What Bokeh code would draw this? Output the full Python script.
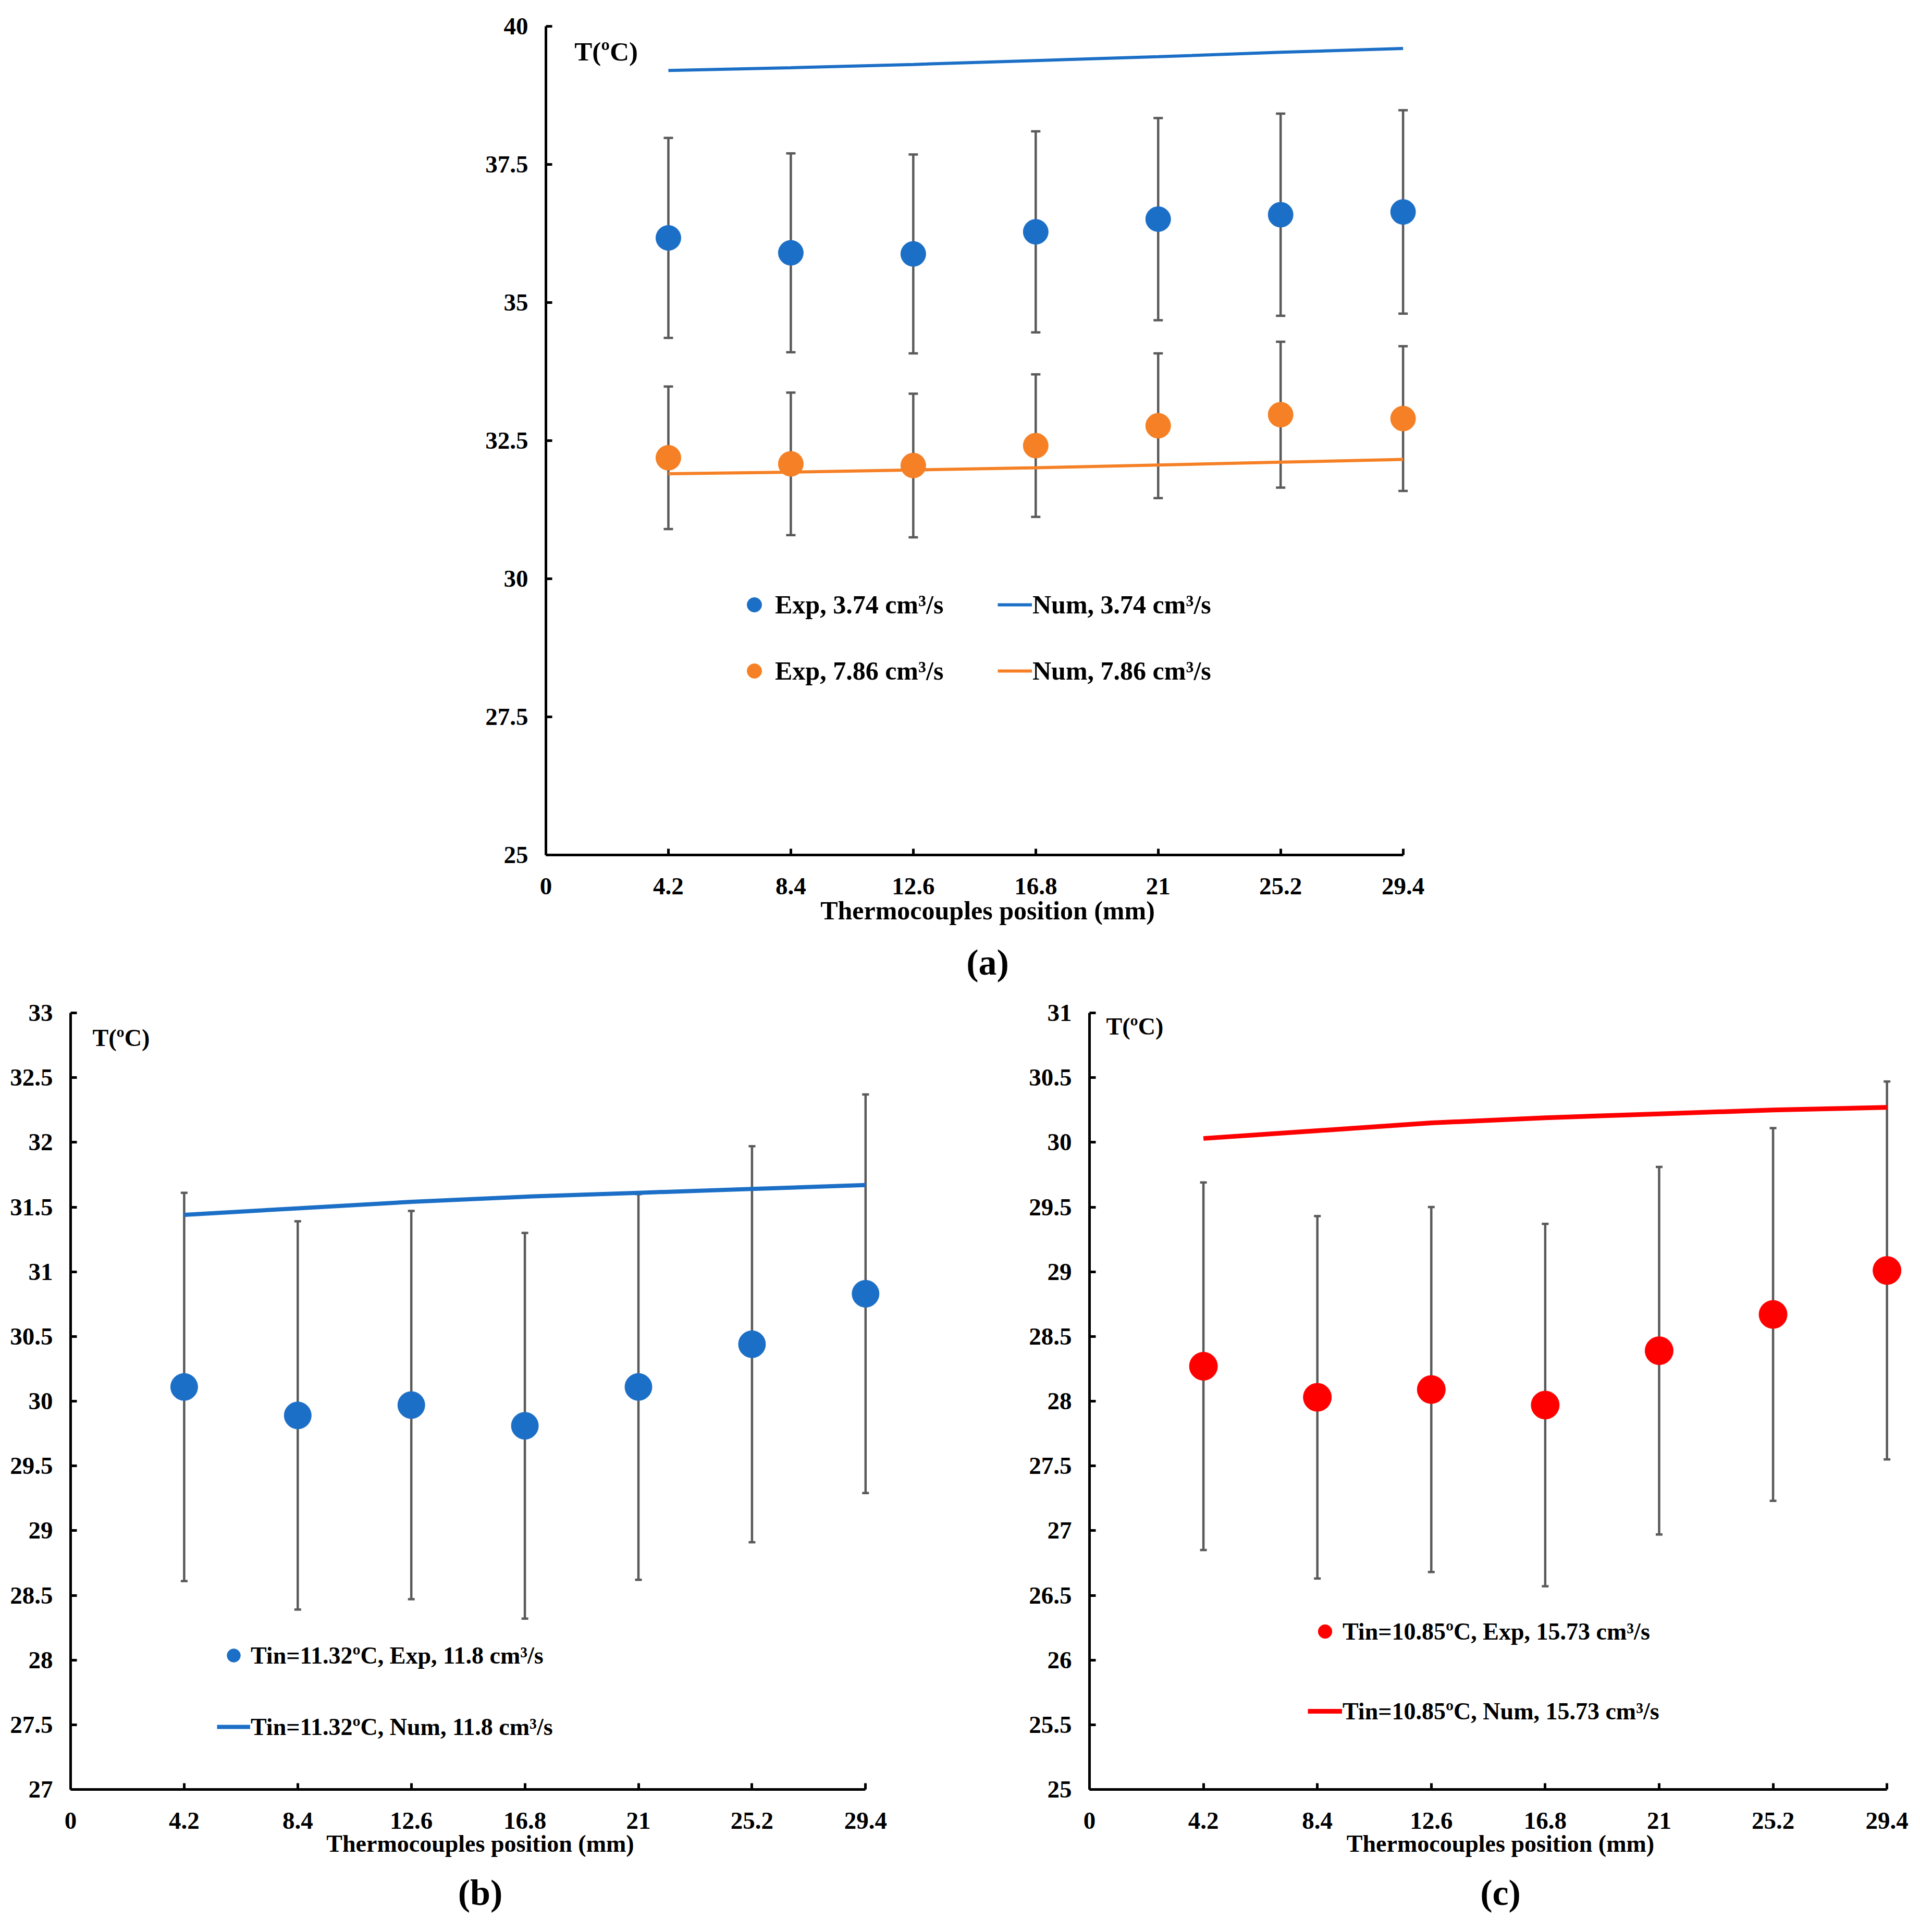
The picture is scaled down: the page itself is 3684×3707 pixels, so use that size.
from bokeh.plotting import figure
from bokeh.models import (Range1d, FixedTicker, Label, Legend, LegendItem, Title,
                          Whisker, TeeHead, ColumnDataSource, Spacer)
from bokeh.layouts import column, row
from bokeh.embed import file_html
from bokeh.resources import INLINE

# ---------------- data ----------------
positions = [4.2, 8.4, 12.6, 16.8, 21, 25.2, 29.4]
x_ticks = [0, 4.2, 8.4, 12.6, 16.8, 21, 25.2, 29.4]
x_tick_labels = ["0", "4.2", "8.4", "12.6", "16.8", "21", "25.2", "29.4"]

# panel (a)
a_exp_374 = [36.17, 35.90, 35.88, 36.28, 36.51, 36.59, 36.64]
a_err_374 = [1.81, 1.80, 1.80, 1.82, 1.83, 1.83, 1.84]
a_exp_786 = [32.19, 32.08, 32.05, 32.41, 32.77, 32.97, 32.90]
a_err_786 = [1.29, 1.29, 1.30, 1.29, 1.31, 1.32, 1.31]
a_num_374 = [39.20, 39.25, 39.31, 39.38, 39.45, 39.53, 39.60]
a_num_786 = [31.90, 31.93, 31.97, 32.01, 32.06, 32.11, 32.16]
a_y_ticks = [25, 27.5, 30, 32.5, 35, 37.5, 40]
a_y_labels = ["25", "27.5", "30", "32.5", "35", "37.5", "40"]

# panel (b)
b_exp = [30.11, 29.89, 29.97, 29.81, 30.11, 30.44, 30.83]
b_err = [1.50, 1.50, 1.50, 1.49, 1.49, 1.53, 1.54]
b_num = [31.44, 31.49, 31.54, 31.58, 31.61, 31.64, 31.67]
b_y_ticks = [27, 27.5, 28, 28.5, 29, 29.5, 30, 30.5, 31, 31.5, 32, 32.5, 33]
b_y_labels = ["27", "27.5", "28", "28.5", "29", "29.5", "30", "30.5", "31", "31.5", "32", "32.5", "33"]

# panel (c)
c_exp = [28.27, 28.03, 28.09, 27.97, 28.39, 28.67, 29.01]
c_err = [1.42, 1.40, 1.41, 1.40, 1.42, 1.44, 1.46]
c_num = [30.03, 30.09, 30.15, 30.19, 30.22, 30.25, 30.27]
c_y_ticks = [25, 25.5, 26, 26.5, 27, 27.5, 28, 28.5, 29, 29.5, 30, 30.5, 31]
c_y_labels = ["25", "25.5", "26", "26.5", "27", "27.5", "28", "28.5", "29", "29.5", "30", "30.5", "31"]

labels_a = ["Exp, 3.74 cm³/s", "Exp, 7.86 cm³/s", "Num, 3.74 cm³/s", "Num, 7.86 cm³/s"]
labels_b = ["Tin=11.32ºC, Exp, 11.8 cm³/s", "Tin=11.32ºC, Num, 11.8 cm³/s"]
labels_c = ["Tin=10.85ºC, Exp, 15.73 cm³/s", "Tin=10.85ºC, Num, 15.73 cm³/s"]

x_title = "Thermocouples position (mm)"
y_title = "T(ºC)"

X_AXIS_END = 29.4   # axis line ends here
X_VIEW_END = 30.3   # plotting area extends a bit further so end markers are not cut

# ---------------- style ----------------
FONT = "Liberation Serif"
BLUE = "#1C6FC6"
ORANGE = "#F58025"
RED = "#FF0000"
ERR = "#5A5A5A"


def make_panel(width, height, left, right, top, bottom, y0, y1, y_ticks, y_labels, tag,
               title_size, tag_standoff):
    p = figure(width=width, height=height, x_range=Range1d(0, X_VIEW_END), y_range=Range1d(y0, y1),
               output_backend="svg", toolbar_location=None,
               min_border_left=left, min_border_right=right,
               min_border_top=top, min_border_bottom=bottom)
    p.outline_line_color = None
    p.xgrid.visible = False
    p.ygrid.visible = False
    p.background_fill_color = "white"
    for ax in (p.xaxis[0], p.yaxis[0]):
        ax.axis_line_color = "black"
        ax.axis_line_width = 5
        ax.major_tick_line_color = "black"
        ax.major_tick_line_width = 5
        ax.major_tick_in = 12
        ax.major_tick_out = 0
        ax.minor_tick_in = 0
        ax.minor_tick_out = 0
        ax.major_label_text_font = FONT
        ax.major_label_text_font_size = "47px"
        ax.major_label_text_font_style = "bold"
        ax.major_label_text_color = "black"
    p.yaxis.major_label_standoff = 34
    p.xaxis.major_label_standoff = 44
    p.xaxis.bounds = (0, X_AXIS_END)
    p.xaxis.ticker = FixedTicker(ticks=x_ticks)
    p.xaxis.major_label_overrides = dict(zip(x_ticks, x_tick_labels))
    p.yaxis.ticker = FixedTicker(ticks=y_ticks)
    p.yaxis.major_label_overrides = dict(zip(y_ticks, y_labels))
    p.xaxis.axis_label = x_title
    p.xaxis.axis_label_text_font = FONT
    p.xaxis.axis_label_text_font_size = title_size
    p.xaxis.axis_label_text_font_style = "bold"
    p.xaxis.axis_label_text_color = "black"
    p.xaxis.axis_label_standoff = 0
    p.add_layout(Title(text=tag, align="center", text_font=FONT, text_font_size="70px",
                       text_font_style="bold", text_color="black", standoff=tag_standoff), "below")
    return p


def add_series(p, vals, errs, cap):
    src = ColumnDataSource(dict(x=positions, y=vals,
                                upper=[v + e for v, e in zip(vals, errs)],
                                lower=[v - e for v, e in zip(vals, errs)]))
    w = Whisker(source=src, base="x", upper="upper", lower="lower",
                line_color=ERR, line_width=4.5,
                upper_head=TeeHead(size=cap, line_color=ERR, line_width=4.5),
                lower_head=TeeHead(size=cap, line_color=ERR, line_width=4.5))
    p.add_layout(w)
    return src


def style_legend(leg, font_size, gw, gh, standoff, spacing):
    leg.glyph_width = gw
    leg.glyph_height = gh
    leg.label_height = gh
    leg.label_standoff = standoff
    leg.spacing = spacing
    leg.padding = 0
    leg.margin = 0
    leg.border_line_color = None
    leg.background_fill_alpha = 0
    leg.label_text_font = FONT
    leg.label_text_font_size = font_size
    leg.label_text_font_style = "bold"
    leg.label_text_color = "black"


# ---------------- panel (a) ----------------
pa = make_panel(1835, 1913, 130, 10, 50, 273, 25, 40, a_y_ticks, a_y_labels, "(a)", "50px", 56)
s1 = add_series(pa, a_exp_374, a_err_374, 18)
s2 = add_series(pa, a_exp_786, a_err_786, 18)
ln1 = pa.line(positions, a_num_374, line_color=BLUE, line_width=6)
ln2 = pa.line(positions, a_num_786, line_color=ORANGE, line_width=6)
d1 = pa.scatter("x", "y", source=s1, size=48, color=BLUE)
d2 = pa.scatter("x", "y", source=s2, size=48, color=ORANGE)
pa.add_layout(Label(x=0.98, y=39.81, text=y_title, text_baseline="top", text_font=FONT,
                    text_font_size="51px", text_font_style="bold", text_color="black"))
leg_a1 = Legend(items=[LegendItem(label=labels_a[0], renderers=[d1]),
                       LegendItem(label=labels_a[1], renderers=[d2])], location=(365, 318))
style_legend(leg_a1, "50px", 70, 70, 5, 57)
leg_a2 = Legend(items=[LegendItem(label=labels_a[2], renderers=[ln1]),
                       LegendItem(label=labels_a[3], renderers=[ln2])], location=(867, 318))
style_legend(leg_a2, "50px", 66, 70, 1, 57)
pa.add_layout(leg_a1)
pa.add_layout(leg_a2)

# ---------------- panel (b) ----------------
pb = make_panel(1717, 1781, 135, 10, 30, 261, 27, 33, b_y_ticks, b_y_labels, "(b)", "46px", 50)
sb = add_series(pb, b_exp, b_err, 13)
lnb = pb.line(positions, b_num, line_color=BLUE, line_width=8)
db = pb.scatter("x", "y", source=sb, size=52, color=BLUE)
pb.add_layout(Label(x=0.81, y=32.91, text=y_title, text_baseline="top", text_font=FONT,
                    text_font_size="46px", text_font_style="bold", text_color="black"))
leg_b = Legend(items=[LegendItem(label=labels_b[0], renderers=[db]),
                      LegendItem(label=labels_b[1], renderers=[lnb])], location=(281, 85))
style_legend(leg_b, "46px", 64, 70, 1, 67)
pb.add_layout(leg_b)

# ---------------- panel (c) ----------------
pc = make_panel(1707, 1781, 130, 0, 30, 260, 25, 31, c_y_ticks, c_y_labels, "(c)", "46px", 50)
sc = add_series(pc, c_exp, c_err, 13)
lnc = pc.line(positions, c_num, line_color=RED, line_width=9)
dc = pc.scatter("x", "y", source=sc, size=54, color=RED)
pc.add_layout(Label(x=0.615, y=31.0, text=y_title, text_baseline="top", text_font=FONT,
                    text_font_size="46px", text_font_style="bold", text_color="black"))
leg_c = Legend(items=[LegendItem(label=labels_c[0], renderers=[dc]),
                      LegendItem(label=labels_c[1], renderers=[lnc])], location=(419, 115))
style_legend(leg_c, "46px", 66, 70, 1, 83)
pc.add_layout(leg_c)

layout = column(
    row(Spacer(width=917, height=10), pa),
    row(pb, Spacer(width=243, height=10), pc),
)

open("out.html", "w").write(file_html(layout, INLINE))
